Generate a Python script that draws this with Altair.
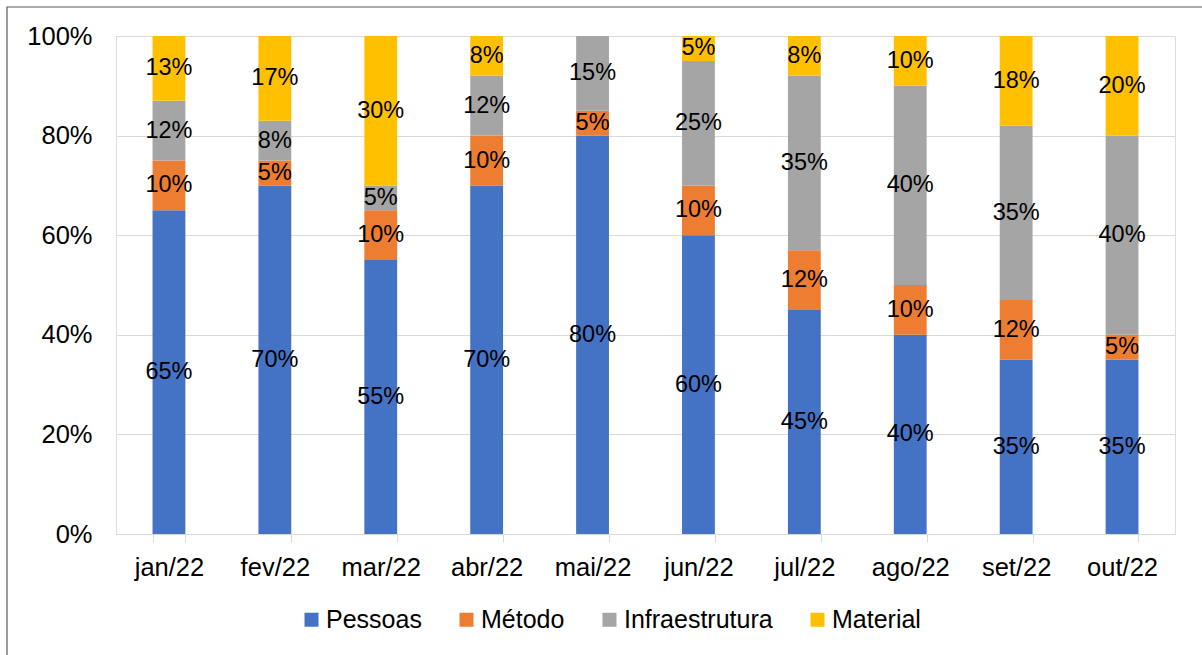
import altair as alt
import pandas as pd

months = ["jan/22", "fev/22", "mar/22", "abr/22", "mai/22", "jun/22", "jul/22", "ago/22", "set/22", "out/22"]
series = ["Pessoas", "Método", "Infraestrutura", "Material"]
pessoas = [65, 70, 55, 70, 80, 60, 45, 40, 35, 35]
metodo = [10, 5, 10, 10, 5, 10, 12, 10, 12, 5]
infra = [12, 8, 5, 12, 15, 25, 35, 40, 35, 40]
material = [13, 17, 30, 8, 0, 5, 8, 10, 18, 20]
colors = ["#4472C4", "#ED7D31", "#A5A5A5", "#FFC000"]

rows = []
for si, (name, vals) in enumerate(zip(series, [pessoas, metodo, infra, material])):
    for m, v in zip(months, vals):
        rows.append({"month": m, "series": name, "value": v, "ord": si})
df = pd.DataFrame(rows)

FONT = "Liberation Sans"

base = alt.Chart(df).transform_stack(
    stack="value", groupby=["month"], as_=["y0", "y1"],
    sort=[alt.SortField("ord", order="ascending")]
)

x_enc = alt.X("month:N", sort=months, title=None,
              scale=alt.Scale(paddingInner=0.69, paddingOuter=0.345),
              axis=alt.Axis(labelAngle=0, tickBand="extent", tickSize=8, tickColor="#d9d9d9",
                            domainColor="#d9d9d9", labelFontSize=25.5, labelFont=FONT,
                            labelColor="#000000", labelPadding=13, grid=False))

bars = base.mark_bar().encode(
    x=x_enc,
    y=alt.Y("y0:Q", title=None, scale=alt.Scale(domain=[0, 100]),
            axis=alt.Axis(values=[0, 20, 40, 60, 80, 100], labelExpr="datum.value + '%'",
                          grid=True, gridColor="#d9d9d9", domain=False, ticks=False,
                          labelFontSize=25.5, labelFont=FONT, labelColor="#000000",
                          labelPadding=24)),
    y2="y1:Q",
    color=alt.Color("series:N", sort=series,
                    scale=alt.Scale(domain=series, range=colors),
                    legend=alt.Legend(title=None, orient="none", direction="horizontal",
                                      legendX=183, legendY=571, symbolType="square",
                                      symbolSize=196, symbolStrokeWidth=0,
                                      labelFontSize=25, labelFont=FONT, labelColor="#000000",
                                      labelOffset=2, columnPadding=32)),
)

labels = base.transform_filter("datum.value > 0").transform_calculate(
    mid="(datum.y0 + datum.y1) / 2", txt="datum.value + '%'"
).mark_text(fontSize=23.5, font=FONT, color="#000000").encode(
    x=alt.X("month:N", sort=months),
    y=alt.Y("mid:Q"),
    text="txt:N",
)

border = alt.Chart(pd.DataFrame({"a": [0]})).mark_rect(
    fill=None, stroke="#595959", strokeWidth=1.2
).encode(
    x=alt.value(-109), x2=alt.value(1100), y=alt.value(-29), y2=alt.value(640)
)

chart = alt.layer(bars, labels, border).properties(
    width=1059, height=498,
    padding={"left": 116, "top": 36, "right": 27, "bottom": 121},
    autosize=alt.AutoSizeParams(type="none"),
).configure_view(stroke=None).configure(background="#ffffff")

chart.save("out.html", embed_options={"renderer": "svg", "actions": False})
